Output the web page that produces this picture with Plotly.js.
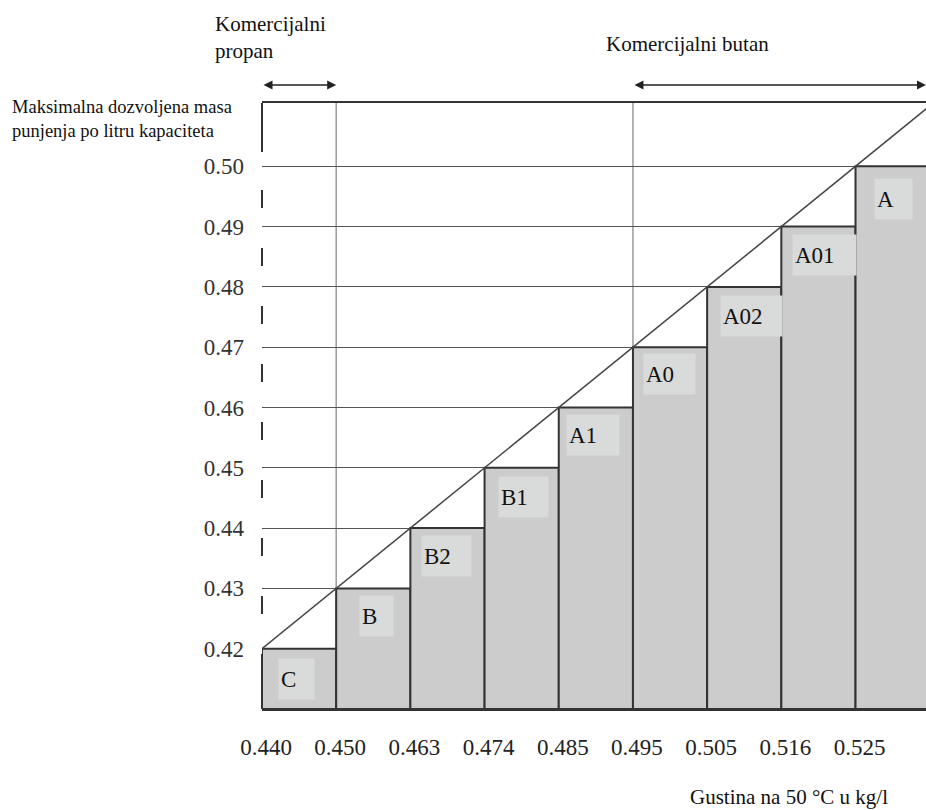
<!DOCTYPE html>
<html>
<head>
<meta charset="utf-8">
<script src="https://cdn.plot.ly/plotly-3.0.1.min.js"></script>
<style>
  html, body { margin: 0; padding: 0; background: #fff; }
  #chart { width: 926px; height: 810px; }
</style>
</head>
<body>
<div id="chart"></div>
<script>
// ---- data ----
const densityTicks = ['0.440', '0.450', '0.463', '0.474', '0.485', '0.495', '0.505', '0.516', '0.525'];
const classes = ['C', 'B', 'B2', 'B1', 'A1', 'A0', 'A02', 'A01', 'A'];
const maxMass = [0.42, 0.43, 0.44, 0.45, 0.46, 0.47, 0.48, 0.49, 0.50];
const yTickVals = [0.42, 0.43, 0.44, 0.45, 0.46, 0.47, 0.48, 0.49, 0.50];
const yTickText = ['0.42', '0.43', '0.44', '0.45', '0.46', '0.47', '0.48', '0.49', '0.50'];
const propanRange = [0, 1];      // 0.440 – 0.450 (tick index)
const butanStart = 5;            // from 0.495 onwards
const yBase = 0.41;
const xMax = 8.95;
const yMax = 0.5105;

// ---- styles (label box geometry, px) ----
const boxInsetX = [16, 23, 11, 13, 7, 10, 13, 11, 18];
const boxInsetY = [9, 7, 7, 8, 6, 6, 8, 7, 12];
const boxWidth  = [35, 33, 49, 49, 52, 51, 61, 63, 37];

const serif = '"Liberation Serif", "Times New Roman", "DejaVu Serif", serif';
const idx = maxMass.map((_, i) => i);

const bars = {
  type: 'bar',
  x: idx.map(i => i + 0.5),
  y: maxMass.map(v => v - yBase),
  base: maxMass.map(() => yBase),
  width: idx.map(() => 1),
  marker: { color: '#cccccc', line: { color: '#333333', width: 2 } },
  hoverinfo: 'skip',
  showlegend: false
};

const n = maxMass.length;
const step = maxMass[n - 1] - maxMass[n - 2];
const diag = {
  type: 'scatter', mode: 'lines',
  x: [0, n],
  y: [maxMass[0], maxMass[n - 1] + step],
  line: { color: '#444444', width: 1.5 },
  hoverinfo: 'skip', showlegend: false, cliponaxis: true
};

const annotations = [];
classes.forEach((c, i) => {
  annotations.push({
    xref: 'x', yref: 'y', x: i, y: maxMass[i],
    xanchor: 'left', yanchor: 'top',
    xshift: boxInsetX[i], yshift: -boxInsetY[i],
    text: c, showarrow: false,
    width: boxWidth[i] - 4, height: 36, align: 'left', valign: 'middle',
    borderpad: 2, bgcolor: '#d9dada',
    font: { family: serif, size: 23, color: '#111' }
  });
});

// top labels
annotations.push({
  xref: 'paper', yref: 'paper', x: (213 - 262) / 664, y: (709 - 10) / 606,
  xanchor: 'left', yanchor: 'top', align: 'left', showarrow: false,
  text: 'Komercijalni<br>propan',
  font: { family: serif, size: 21, color: '#111' }
});
annotations.push({
  xref: 'paper', yref: 'paper', x: (604 - 262) / 664, y: (709 - 44) / 606,
  xanchor: 'left', yanchor: 'middle', align: 'left', showarrow: false,
  text: 'Komercijalni butan',
  font: { family: serif, size: 21, color: '#111' }
});
// arrows
const arrowY = 1 + (103 - 85) / 606;
[[propanRange[0], propanRange[1]], [butanStart, xMax]].forEach(r => {
  annotations.push({
    xref: 'x', yref: 'paper', axref: 'x', ayref: 'paper',
    x: r[1], y: arrowY, ax: r[0], ay: arrowY,
    text: '', showarrow: true, arrowside: 'end+start',
    arrowhead: 2, arrowsize: 1.2, arrowwidth: 1.5, arrowcolor: '#222',
    standoff: 0, startstandoff: 0
  });
});
// y title
annotations.push({
  xref: 'paper', yref: 'paper', x: (10 - 262) / 664, y: (709 - 95) / 606,
  xanchor: 'left', yanchor: 'top', align: 'left', showarrow: false,
  text: 'Maksimalna dozvoljena masa<br>punjenja po litru kapaciteta',
  font: { family: serif, size: 18.5, color: '#111' }
});
// x title
annotations.push({
  xref: 'paper', yref: 'paper', x: (688 - 262) / 664, y: (709 - 797) / 606,
  xanchor: 'left', yanchor: 'middle', align: 'left', showarrow: false,
  text: 'Gustina na 50 °C u kg/l',
  font: { family: serif, size: 21, color: '#111' }
});

const shapes = [
  { type: 'line', layer: 'between', xref: 'x', yref: 'paper', x0: propanRange[1], x1: propanRange[1], y0: 0, y1: 1,
    line: { color: '#9a9a9a', width: 1.5 } },
  { type: 'line', layer: 'between', xref: 'x', yref: 'paper', x0: butanStart, x1: butanStart, y0: 0, y1: 1,
    line: { color: '#9a9a9a', width: 1.5 } },
  { type: 'line', layer: 'above', xref: 'paper', yref: 'paper', x0: 0, x1: 0, y0: 1, y1: 0,
    line: { color: '#333', width: 2,
      dash: '49px,38px,' + Array(8).fill('18px,40px').join(',') + ',70px,0px' } }
];

const layout = {
  width: 926, height: 810,
  margin: { l: 262, r: 0, t: 103, b: 101, pad: 0 },
  paper_bgcolor: '#fff', plot_bgcolor: '#fff',
  font: { family: serif },
  showlegend: false,
  bargap: 0,
  xaxis: {
    range: [0, xMax], tickvals: idx, ticktext: densityTicks,
    showgrid: false, zeroline: false,
    showline: true, mirror: true, linecolor: '#333', linewidth: 2,
    ticks: '', ticklabelstandoff: 16, ticklabelshift: 4,
    tickfont: { family: serif, size: 23, color: '#222' },
    fixedrange: true
  },
  yaxis: {
    range: [yBase, yMax], tickvals: yTickVals, ticktext: yTickText,
    showgrid: true, gridcolor: '#555', gridwidth: 1,
    zeroline: false, showline: false,
    ticks: '', ticklabelstandoff: 17,
    tickfont: { family: serif, size: 23, color: '#333' },
    fixedrange: true
  },
  annotations: annotations,
  shapes: shapes
};

Plotly.newPlot('chart', [bars, diag], layout, { displayModeBar: false, staticPlot: true });
</script>
</body>
</html>
